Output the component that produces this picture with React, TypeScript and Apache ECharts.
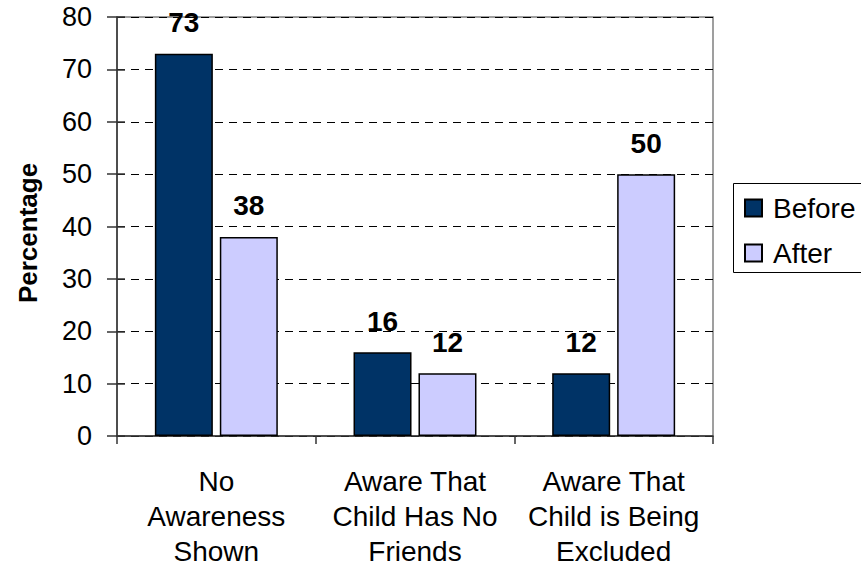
import React, { useEffect, useRef } from "react";
import * as echarts from "echarts";

const categories = ["No\nAwareness\nShown", "Aware That\nChild Has No\nFriends", "Aware That\nChild is Being\nExcluded"];
const beforeValues = [73, 16, 12];
const afterValues = [38, 12, 50];
const seriesNames = ["Before", "After"];
const yTicks = { min: 0, max: 80, interval: 10 };

const FONT = "'Liberation Sans', Arial, sans-serif";

export default function App() {
  const ref = useRef<HTMLDivElement>(null);
  useEffect(() => {
    document.body.style.margin = "0";
    const chart = echarts.init(ref.current!, null, { renderer: "svg" });
    const labelStyle = {
      show: true,
      position: "top",
      distance: 17,
      fontSize: 28,
      fontWeight: "bold",
      fontFamily: FONT,
      color: "#000",
    };
    chart.setOption({
      animation: false,
      backgroundColor: "#ffffff",
      textStyle: { fontFamily: FONT },
      grid: {
        left: 117,
        top: 17,
        right: 148,
        bottom: 132,
        show: true,
        borderColor: "#808080",
        borderWidth: 1.5,
        backgroundColor: "transparent",
      },
      legend: {
        orient: "vertical",
        left: 733,
        top: 183,
        data: seriesNames,
        itemWidth: 17,
        itemHeight: 17,
        itemGap: 17,
        borderWidth: 0,
        padding: [11, 0, 5, 11],
        icon: "rect",
        textStyle: { fontSize: 28, fontFamily: FONT, color: "#000", padding: [0, 0, 0, 6] },
      },
      graphic: [
        {
          type: "rect",
          silent: true,
          shape: { x: 733.5, y: 183.5, width: 200, height: 89 },
          style: { fill: "none", stroke: "#000", lineWidth: 1 },
        },
        {
          type: "text",
          x: 27.5,
          y: 233,
          rotation: Math.PI / 2,
          style: {
            text: "Percentage",
            fontSize: 26,
            fontWeight: "bold",
            fontFamily: FONT,
            fill: "#000",
            align: "center",
            verticalAlign: "middle",
          },
        },
      ],
      xAxis: {
        type: "category",
        data: categories,
        axisLine: { show: true, lineStyle: { color: "#333", width: 1.5 } },
        axisTick: { show: true, alignWithLabel: false, length: 8, lineStyle: { color: "#333", width: 1.5 } },
        axisLabel: {
          fontSize: 28,
          fontFamily: FONT,
          color: "#000",
          lineHeight: 35,
          margin: 28,
          interval: 0,
        },
      },
      yAxis: [
        {
          type: "value",
          min: yTicks.min,
          max: yTicks.max,
          interval: yTicks.interval,
          axisLine: { show: true, lineStyle: { color: "#333", width: 1.5 } },
          axisTick: { show: true, inside: false, length: 10, lineStyle: { color: "#333", width: 1.5 } },
          axisLabel: { fontSize: 27, fontFamily: FONT, color: "#000", margin: 25 },
          splitLine: { show: true, lineStyle: { color: "#000", type: [8, 6], width: 1 } },
        },
        {
          type: "value",
          position: "left",
          min: yTicks.min,
          max: yTicks.max,
          interval: yTicks.interval,
          axisLine: { show: false },
          axisTick: { show: true, inside: true, length: 8, lineStyle: { color: "#333", width: 1.5 } },
          axisLabel: { show: false },
          splitLine: { show: false },
        },
      ],
      series: [
        {
          name: seriesNames[0],
          type: "bar",
          data: beforeValues,
          barWidth: 58,
          barGap: "12%",
          itemStyle: { color: "#003366", borderColor: "#000", borderWidth: 1.5 },
          label: labelStyle,
        },
        {
          name: seriesNames[1],
          type: "bar",
          data: afterValues,
          barWidth: 58,
          barGap: "12%",
          itemStyle: { color: "#CCCCFF", borderColor: "#000", borderWidth: 1.5 },
          label: labelStyle,
        },
      ],
    });
    return () => chart.dispose();
  }, []);
  return <div ref={ref} style={{ position: "fixed", left: 0, top: 0, width: 861, height: 569 }} />;
}
